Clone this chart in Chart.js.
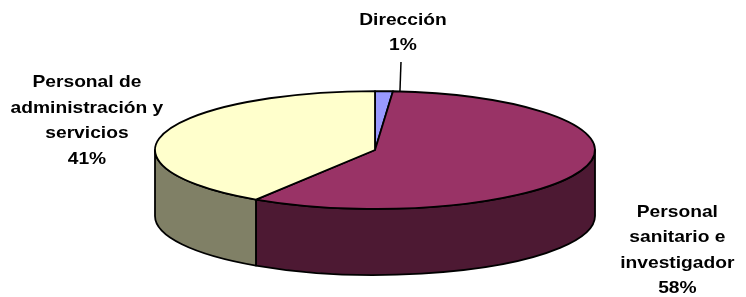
<!DOCTYPE html>
<html>
<head>
  <title>Distribución del personal</title>
  <script src="https://cdn.jsdelivr.net/npm/chart.js"></script>
  <style>
    html, body { margin: 0; padding: 0; background: #fff; }
    #wrap { width: 746px; height: 297px; }
  </style>
</head>
<body>
  <div id="wrap"><canvas id="chart"></canvas></div>

  <script>
    // data
    const categories = ['Dirección', 'Personal sanitario e investigador', 'Personal de administración y servicios'];
    const labelLines = [['Dirección'], ['Personal', 'sanitario e', 'investigador'], ['Personal de', 'administración y', 'servicios']];
    const shares = [1.3, 57.8, 40.9];

    // colours: top face and darker side wall
    const topColors = ['#9999FF', '#993366', '#FFFFCC'];
    const sideColors = ['#4D4D80', '#4D1933', '#808066'];

    // 3d look, relative to the pie radius
    const TILT = 0.268;
    const DEPTH = 0.3;
    // label centre relative to the slice mid point on the rim
    const labelOffsets = [[19, -71], [94, 43], [-77, -51]];
    const LINE_H = 25.5;
    const TEXT_STRETCH = 1.13;

    // draw the pie as a tilted disc with a front wall
    const pie3d = {
      id: 'pie3d',
      beforeDatasetsDraw(chart) {
        const ctx = chart.ctx;
        const arcs = chart.getDatasetMeta(0).data;
        if (!arcs.length) return false;
        const first = arcs[0].getProps(['x', 'y', 'outerRadius'], true);
        const cx = first.x, cy = first.y;
        const rx = first.outerRadius, ry = rx * TILT, h = rx * DEPTH;
        const TWO_PI = Math.PI * 2;

        ctx.save();
        ctx.lineWidth = 1.8;
        ctx.strokeStyle = '#000';
        ctx.lineJoin = 'round';

        // front walls
        arcs.forEach((arc, i) => {
          const { startAngle, endAngle } = arc.getProps(['startAngle', 'endAngle'], true);
          for (let k = -1; k <= 1; k++) {
            const lo = Math.max(startAngle, k * TWO_PI);
            const hi = Math.min(endAngle, k * TWO_PI + Math.PI);
            if (hi <= lo) continue;
            ctx.beginPath();
            ctx.ellipse(cx, cy, rx, ry, 0, lo, hi);
            ctx.ellipse(cx, cy + h, rx, ry, 0, hi, lo, true);
            ctx.closePath();
            ctx.fillStyle = sideColors[i];
            ctx.fill();
            ctx.stroke();
          }
        });

        // top faces
        arcs.forEach((arc, i) => {
          const { startAngle, endAngle } = arc.getProps(['startAngle', 'endAngle'], true);
          ctx.beginPath();
          ctx.moveTo(cx, cy);
          ctx.ellipse(cx, cy, rx, ry, 0, startAngle, endAngle);
          ctx.closePath();
          ctx.fillStyle = topColors[i];
          ctx.fill();
          ctx.stroke();
        });

        // labels
        const total = shares.reduce((a, b) => a + b, 0);
        ctx.fillStyle = '#000';
        ctx.font = 'bold 17px "Liberation Sans", Arial, sans-serif';
        ctx.textAlign = 'center';
        ctx.textBaseline = 'middle';
        arcs.forEach((arc, i) => {
          const { startAngle, endAngle } = arc.getProps(['startAngle', 'endAngle'], true);
          const mid = (startAngle + endAngle) / 2;
          const px = cx + rx * Math.cos(mid);
          const py = cy + ry * Math.sin(mid);
          const lx = px + labelOffsets[i][0];
          const ly = py + labelOffsets[i][1];
          const lines = labelLines[i].concat([Math.round(shares[i] / total * 100) + '%']);
          lines.forEach((t, j) => {
            ctx.save();
            ctx.translate(lx, ly + j * LINE_H);
            ctx.scale(TEXT_STRETCH, 1);
            ctx.fillText(t, 0, 0);
            ctx.restore();
          });

          // leader line for the tiny slice
          if (shares[i] / total < 0.05) {
            const ex = cx + rx * Math.cos(endAngle);
            const ey = cy + ry * Math.sin(endAngle);
            ctx.beginPath();
            ctx.lineWidth = 1.5;
            ctx.moveTo(lx - 2, ly + lines.length * LINE_H - 9);
            ctx.lineTo(ex + 7, ey);
            ctx.stroke();
          }
        });

        ctx.restore();
        return false;
      }
    };

    const ctx = document.getElementById('chart').getContext('2d');
    const chart = new Chart(ctx, {
      type: 'pie',
      data: {
        labels: categories,
        datasets: [{
          data: shares,
          backgroundColor: topColors,
          borderWidth: 0,
          radius: 220
        }]
      },
      options: {
        responsive: true,
        maintainAspectRatio: false,
        animation: false,
        layout: { padding: { left: 4, right: 0, top: 10, bottom: 7 } },
        plugins: {
          legend: { display: false },
          tooltip: { enabled: false }
        }
      },
      plugins: [pie3d]
    });
  </script>
</body>
</html>
